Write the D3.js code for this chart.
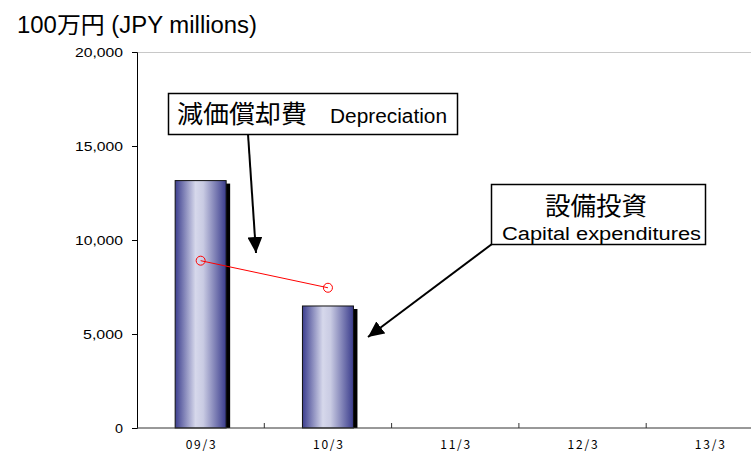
<!DOCTYPE html>
<html><head><meta charset="utf-8">
<script src="https://cdn.jsdelivr.net/npm/d3@7"></script>
<style>body{margin:0;background:#fff}svg{display:block}</style>
</head><body>
<svg id="c" width="751" height="454"></svg>
<script>
const categories = ["09/3","10/3","11/3","12/3","13/3"];
const capex = [13160, 6490, null, null, null];
const depreciation = [8900, 7460, null, null, null];
const yTicks = [0, 5000, 10000, 15000, 20000];
const yTitle = "100万円 (JPY millions)";
const depLabelJa = "減価償却費", depLabelEn = "Depreciation";
const capLabelJa = "設備投資", capLabelEn = "Capital expenditures";

const svg = d3.select("#c");
const L = 137, R = 773.5, T = 52, B = 428;
const x = d3.scaleBand().domain(categories).range([L, R]).paddingInner(0).paddingOuter(0);
const y = d3.scaleLinear().domain([0, 20000]).range([B, T]);
const SANS = "Arial, 'Liberation Sans', sans-serif";
const CJK = "'Noto Sans CJK JP', sans-serif";

const defs = svg.append("defs");
const g = defs.append("linearGradient").attr("id","bg").attr("x1","0").attr("x2","1").attr("y1","0").attr("y2","0");
g.append("stop").attr("offset","0%").attr("stop-color","#3c3e8e");
g.append("stop").attr("offset","40%").attr("stop-color","#d6d8eb");
g.append("stop").attr("offset","55%").attr("stop-color","#c9cbe3");
g.append("stop").attr("offset","100%").attr("stop-color","#3a3c8c");
const mk2 = defs.append("marker").attr("id","ah2").attr("viewBox","0 0 16 15").attr("refX",16).attr("refY",7.5)
  .attr("markerWidth",16).attr("markerHeight",15).attr("markerUnits","userSpaceOnUse").attr("orient","auto");
mk2.append("path").attr("d","M0,0 L16,7.5 L0,15 Z").attr("fill","#000");

// top border
svg.append("line").attr("x1",L).attr("x2",751).attr("y1",T+0.5).attr("y2",T+0.5).attr("stroke","#c8c8c8").attr("stroke-width",1);

// bars
const bw = 51;
const bars = categories.map((c,i)=>({c, v: capex[i]})).filter(d=>d.v!=null);
svg.selectAll("rect.sh").data(bars).enter().append("rect")
  .attr("x", d=>x(d.c)+x.bandwidth()/2-bw/2+bw-1)
  .attr("y", d=>y(d.v)+3).attr("width",5).attr("height", d=>B-y(d.v)-3).attr("fill","#000");
svg.selectAll("rect.bar").data(bars).enter().append("rect")
  .attr("x", d=>x(d.c)+x.bandwidth()/2-bw/2)
  .attr("y", d=>y(d.v)).attr("width",bw).attr("height", d=>B-y(d.v))
  .attr("fill","url(#bg)").attr("stroke","#111").attr("stroke-width",1);

// axes
const ya = svg.append("g").attr("transform",`translate(${L},0)`)
  .call(d3.axisLeft(y).tickValues(yTicks).tickSize(5).tickPadding(9).tickFormat(d3.format(",")));
ya.select(".domain").attr("stroke","#000");
ya.selectAll("text").attr("font-family",SANS).attr("font-size",13).attr("fill","#000")
  .attr("textLength", function(){ return this.textContent.length * 8; }).attr("lengthAdjust","spacingAndGlyphs");

svg.append("line").attr("x1",L).attr("x2",751).attr("y1",B).attr("y2",B).attr("stroke","#333");
const bounds = categories.slice(1).map(c=>x(c));
svg.selectAll("line.xt").data(bounds).enter().append("line")
  .attr("x1",d=>d).attr("x2",d=>d).attr("y1",B-5).attr("y2",B).attr("stroke","#333");
svg.selectAll("text.xl").data(categories).enter().append("text")
  .attr("x", d=>x(d)+x.bandwidth()/2-15).attr("y", 449)
  .attr("font-family",CJK).attr("font-size",12)
  .attr("textLength",30).attr("lengthAdjust","spacing")
  .attr("fill","#000").text(d=>d);

// depreciation line
const pts = categories.map((c,i)=>({c, v: depreciation[i]})).filter(d=>d.v!=null);
svg.append("path").datum(pts)
  .attr("d", d3.line().x(d=>x(d.c)+x.bandwidth()/2).y(d=>y(d.v)))
  .attr("fill","none").attr("stroke","#f00").attr("stroke-width",1);
svg.selectAll("circle.p").data(pts).enter().append("circle")
  .attr("cx", d=>x(d.c)+x.bandwidth()/2).attr("cy", d=>y(d.v)).attr("r",4.5)
  .attr("fill","none").attr("stroke","#f00").attr("stroke-width",1);

// title
svg.append("text").attr("x",17).attr("y",33).attr("font-family","Arial, 'Liberation Sans', 'Noto Sans CJK JP', sans-serif")
  .attr("font-size",23).attr("fill","#000").attr("textLength",240).attr("lengthAdjust","spacingAndGlyphs").text(yTitle);

// callout 1
svg.append("line").attr("x1",248).attr("y1",134).attr("x2",256).attr("y2",253)
  .attr("stroke","#000").attr("stroke-width",2).attr("marker-end","url(#ah2)");
svg.append("rect").attr("x",168.5).attr("y",93.5).attr("width",289).attr("height",41)
  .attr("fill","#fff").attr("stroke","#000").attr("stroke-width",1.5);
svg.append("text").attr("x",177).attr("y",123).attr("fill","#000")
  .attr("font-family",CJK).attr("font-size",25).attr("textLength",130).attr("lengthAdjust","spacingAndGlyphs").text(depLabelJa);
svg.append("text").attr("x",330).attr("y",123).attr("fill","#000")
  .attr("font-family",SANS).attr("font-size",20).attr("textLength",117).attr("lengthAdjust","spacingAndGlyphs").text(depLabelEn);

// callout 2
svg.append("line").attr("x1",492).attr("y1",244).attr("x2",368).attr("y2",337)
  .attr("stroke","#000").attr("stroke-width",2).attr("marker-end","url(#ah2)");
svg.append("rect").attr("x",491.5).attr("y",184.5).attr("width",214).attr("height",60)
  .attr("fill","#fff").attr("stroke","#000").attr("stroke-width",1.5);
svg.append("text").attr("x",545).attr("y",215)
  .attr("font-family",CJK).attr("font-size",25).attr("fill","#000")
  .attr("textLength",102).attr("lengthAdjust","spacingAndGlyphs").text(capLabelJa);
svg.append("text").attr("x",502).attr("y",240)
  .attr("font-family",SANS).attr("font-size",18).attr("fill","#000")
  .attr("textLength",199).attr("lengthAdjust","spacingAndGlyphs").text(capLabelEn);
</script>
</body></html>
